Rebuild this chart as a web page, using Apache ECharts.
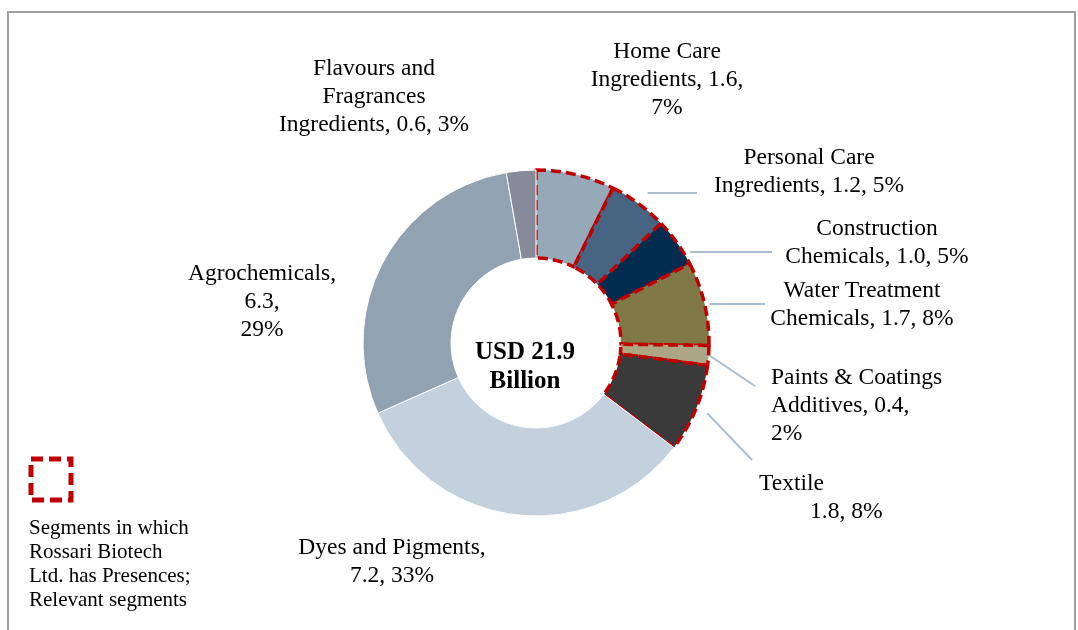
<!DOCTYPE html>
<html>
<head>
<meta charset="utf-8">
<script src="https://cdn.jsdelivr.net/npm/echarts@6/dist/echarts.min.js"></script>
<style>
html,body{margin:0;padding:0;background:#fff;}
#chart{width:1078px;height:630px;}
</style>
</head>
<body>
<div id="chart"></div>
<script>
// ---- data ----
const categories = [
  'Home Care\nIngredients',
  'Personal Care\nIngredients',
  'Construction\nChemicals',
  'Water Treatment\nChemicals',
  'Paints & Coatings\nAdditives',
  'Textile',
  'Dyes and Pigments',
  'Agrochemicals',
  'Flavours and\nFragrances\nIngredients'
];
const values = [1.6, 1.2, 1.0, 1.7, 0.4, 1.8, 7.2, 6.3, 0.6];
const percents = [7, 5, 5, 8, 2, 8, 33, 29, 3];
const rossariPresence = [true, true, true, true, true, true, false, false, false];
const totalText = 'USD 21.9\nBillion';

// ---- styles / layout ----
const colors = ['#95a9b8', '#476582', '#022c50', '#817848', '#aca685', '#3a3a3a', '#c3d1df', '#91a2b3', '#878a9b'];
// separators after name and after value: ' ' or '\n'
const seps = [[' ', '\n'], [' ', ' '], [' ', ' '], [' ', ' '], [' ', '\n'], ['\n', ' '], ['\n', ' '], ['\n', '\n'], [' ', ' ']];
const labelAnchor = [
  [667, 80, 'center'],
  [809, 172, 'center'],
  [877, 243, 'center'],
  [862, 305, 'center'],
  [771, 406, 'left'],
  [759, 498, 'left'],
  [392, 562, 'center'],
  [262, 302, 'center'],
  [374, 97, 'center']
];
// leader line: end point, mode ('h' = horizontal from ring, 'r' = radial start), gap from ring
const leaderEnd = [null, [697, 193], [772, 252], [765, 304], [755, 386], [752, 460], null, null, null];
const leaderMode = [null, ['h', 14], ['h', 6], ['h', 5], ['r', 1], ['r', 12], null, null, null];
const center = [536, 343];
const radius = [85, 173];
const FONT = '"Liberation Serif", "Times New Roman", serif';

function labelText(i) {
  if (i === 5) {
    return categories[i] + '\n{t|' + values[i].toFixed(1) + ', ' + percents[i] + '%}';
  }
  return categories[i] + ',' + seps[i][0] + values[i].toFixed(1) + ',' + seps[i][1] + percents[i] + '%';
}

const seriesData = categories.map(function (c, i) {
  const hl = rossariPresence[i];
  return {
    name: c,
    value: values[i],
    itemStyle: hl ? {
      color: colors[i], borderColor: '#c00000', borderWidth: 3.5, borderType: [10, 5]
    } : {
      color: colors[i], borderColor: '#ffffff', borderWidth: 1
    },
    labelLine: { show: !!leaderEnd[i] }
  };
});

const chart = echarts.init(document.getElementById('chart'), null, { renderer: 'canvas' });
chart.setOption({
  animation: false,
  backgroundColor: '#ffffff',
  graphic: [
    { type: 'rect', shape: { x: 8, y: 12, width: 1067, height: 650 }, style: { fill: 'none', stroke: '#a0a0a0', lineWidth: 2 }, silent: true },
    { type: 'text', x: 525, y: 367, style: { text: totalText, font: 'bold 25px ' + FONT, fill: '#000', textAlign: 'center', textVerticalAlign: 'middle', lineHeight: 29 }, z: 10 },
    { type: 'rect', shape: { x: 31, y: 459, width: 40, height: 41 }, style: { fill: 'none', stroke: '#c00000', lineWidth: 5, lineDash: [12, 6] } },
    { type: 'text', x: 29, y: 516, style: { text: 'Segments in which\nRossari Biotech\nLtd. has Presences;\nRelevant segments', font: '21px ' + FONT, fill: '#000', lineHeight: 24, textVerticalAlign: 'top' } }
  ],
  series: [{
    type: 'pie',
    center: center,
    radius: radius,
    startAngle: 90,
    clockwise: true,
    avoidLabelOverlap: false,
    emphasis: { disabled: true },
    data: seriesData,
    label: {
      show: true,
      position: 'outside',
      formatter: function (p) { return labelText(p.dataIndex); },
      fontFamily: FONT,
      fontSize: 23.5,
      lineHeight: 28,
      color: '#000',
      rich: { t: { fontFamily: FONT, fontSize: 23.5, lineHeight: 28, color: '#000', padding: [0, 0, 0, 51] } }
    },
    labelLine: { show: true, lineStyle: { color: '#a9bdd1', width: 2 } },
    labelLayout: function (p) {
      const i = p.dataIndex;
      const a = labelAnchor[i];
      const out = { x: a[0], y: a[1], align: a[2], verticalAlign: 'middle' };
      const e = leaderEnd[i];
      const m = leaderMode[i];
      if (e && m) {
        const rr = radius[1] + m[1];
        let s;
        if (m[0] === 'h') {
          const dy = e[1] - center[1];
          s = [center[0] + Math.sqrt(Math.max(rr * rr - dy * dy, 0)), e[1]];
        } else if (p.labelLinePoints) {
          const q = p.labelLinePoints[0];
          const dx = q[0] - center[0], dy = q[1] - center[1];
          const d = Math.sqrt(dx * dx + dy * dy) || 1;
          s = [center[0] + dx / d * rr, center[1] + dy / d * rr];
        }
        if (s) out.labelLinePoints = [s, [e[0], e[1]]];
      }
      return out;
    }
  }]
});
</script>
</body>
</html>
